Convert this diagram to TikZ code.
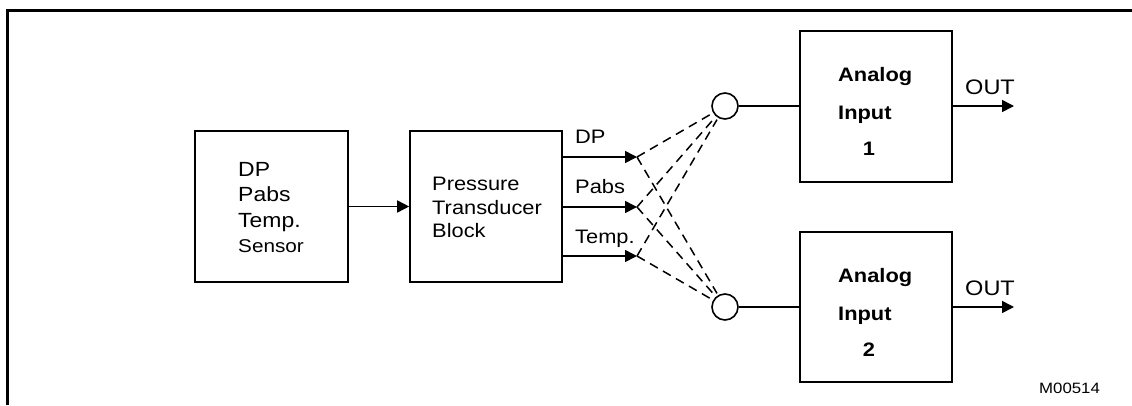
\documentclass[tikz,border=0pt]{standalone}
\usepackage{fontspec}
\setmainfont[FakeStretch=1.12]{Liberation Sans}
\usetikzlibrary{arrows.meta}
\tikzset{
  box/.style={draw, line width=1.6pt, minimum width=152pt, minimum height=151pt, inner sep=0pt},
  arr/.style={line width=1.6pt, -{Triangle[length=12pt,width=12pt]}},
  wire/.style={line width=1.6pt},
  dsh/.style={line width=1.5pt, dash pattern=on 9pt off 6pt, shorten >=2pt},
  jn/.style={draw, circle, line width=1.6pt, minimum size=26pt, inner sep=0pt},
  txt/.style={anchor=base west, inner sep=0pt},
  fa/.style={font=\fontsize{20.5}{24}\selectfont},
  fb/.style={font=\fontsize{19.5}{23}\selectfont},
  fs/.style={font=\fontsize{18.5}{22}\selectfont},
  fbold/.style={font=\fontsize{19.5}{23}\selectfont\bfseries},
  fout/.style={font=\fontsize{21}{25}\selectfont},
  fsmall/.style={font=\fontsize{15}{18}\selectfont}
}
\begin{document}
\begin{tikzpicture}[x=1pt,y=-1pt]
\useasboundingbox (0,0) rectangle (1132,405);
% frame
\draw[line width=3pt] (7,405) -- (7,10) -- (1132,10);
% boxes
\node[box, minimum width=153pt] (sensor) at (271.5,206.5) {};
\node[box] (ptb) at (486,206.5) {};
\node[box] (ai1) at (876,106.5) {};
\node[box, minimum height=150pt] (ai2) at (876,307) {};
\node[jn] (c1) at (725,106) {};
\node[jn] (c2) at (725,307) {};
% sensor text
\node[txt,fa] (s1) at (238,176) {DP};
\node[txt,fa] (s2) at (238,201.5) {Pabs};
\node[txt,fa] (s3) at (238,227.5) {Temp.};
\node[txt,fs] (s4) at (238,252.5) {Sensor};
% transducer text
\node[txt,fb] (p1) at (432,190.7) {Pressure};
\node[txt,fb] (p2) at (432,214) {Transducer};
\node[txt,fb] (p3) at (432,237.7) {Block};
% analog text
\node[txt,fbold] (a1) at (838,81.7) {Analog};
\node[txt,fbold] (a2) at (838,119) {Input};
\node[anchor=base,inner sep=0pt,fbold] (a3) at (869,155.7) {1};
\node[txt,fbold] (b1) at (838,282.7) {Analog};
\node[txt,fbold] (b2) at (838,320) {Input};
\node[anchor=base,inner sep=0pt,fbold] (b3) at (869,356.7) {2};
% output tips
\coordinate (t1) at (637,157);
\coordinate (t2) at (637,207);
\coordinate (t3) at (637,256);
\coordinate (o1) at (1014,106);
\coordinate (o2) at (1014,307);
% output labels
\node[txt,fb] (l1) at (575,143) {DP};
\node[txt,fb] (l2) at (575,193.3) {Pabs};
\node[txt,fb] (l3) at (575,243.3) {Temp.};
\node[txt,fout] (q1) at (965,94) {OUT};
\node[txt,fout] (q2) at (965,295) {OUT};
\node[txt,fsmall] (code) at (1039,393) {M00514};
% connectors
\draw[arr] (sensor.east) -- (ptb.west);
\draw[arr] (ptb.east |- t1) -- (t1);
\draw[arr] (ptb.east |- t2) -- (t2);
\draw[arr] (ptb.east |- t3) -- (t3);
\draw[wire] (c1.east) -- (ai1.west |- c1.east);
\draw[wire] (c2.east) -- (ai2.west |- c2.east);
\draw[arr] (ai1.east |- o1) -- (o1);
\draw[arr] (ai2.east |- o2) -- (o2);
\foreach \t in {t1,t2,t3}{
  \draw[dsh] (\t) -- (c1);
  \draw[dsh] (\t) -- (c2);
}
\end{tikzpicture}
\end{document}
